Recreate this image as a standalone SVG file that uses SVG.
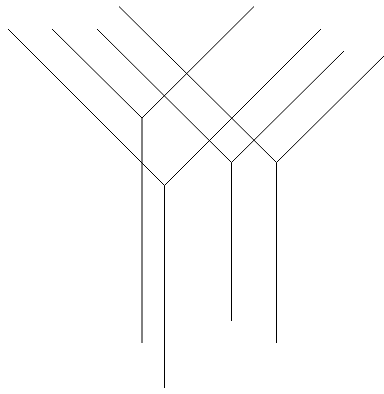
<svg xmlns="http://www.w3.org/2000/svg" width="384" height="394" viewBox="0 0 384 394">
<style>
.l{fill:none;stroke:#000;stroke-width:1}
</style>
<rect width="384" height="394" fill="#fff"/>
<g id="y1"><polyline class="l" points="52,29 142,118 254,6.5"/><line class="l" x1="142" y1="118" x2="142" y2="343"/></g>
<g id="y2"><polyline class="l" points="8,29 164.5,185.5 321,29"/><line class="l" x1="164.5" y1="185.5" x2="164.5" y2="388"/></g>
<g id="y3"><polyline class="l" points="97,29 231.5,162.5 344,51"/><line class="l" x1="231.5" y1="162.5" x2="231.5" y2="321"/></g>
<g id="y4"><polyline class="l" points="119,6.5 276.5,162.5 386,54"/><line class="l" x1="276.5" y1="162.5" x2="276.5" y2="343"/></g>
</svg>
